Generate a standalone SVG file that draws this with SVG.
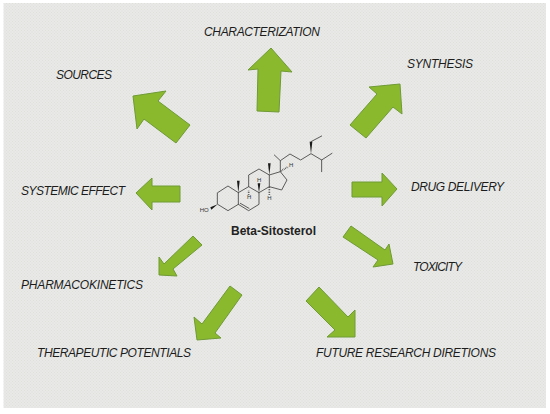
<svg xmlns="http://www.w3.org/2000/svg" width="550" height="414" viewBox="0 0 550 414">
<style>
.lbl{font-family:"Liberation Sans",Arial,sans-serif;font-style:italic;font-size:12px;fill:#1c1c1c}
.ttl{font-family:"Liberation Sans",Arial,sans-serif;font-weight:bold;font-size:12px;fill:#222}
.arr{fill:#8bb92d;stroke:#6f9a35;stroke-width:1;stroke-linejoin:miter}
.bond{fill:none;stroke:#444;stroke-width:2.6;stroke-linecap:round;stroke-linejoin:round}
.wedge{fill:#1a1a1a;stroke:none}
.hash{fill:none;stroke:#3a3a3a;stroke-width:5;stroke-dasharray:2 3}
.atom{font-family:"Liberation Sans",Arial,sans-serif;font-size:6px;fill:#333}
</style>
<defs>
<pattern id="tex" width="3" height="3" patternUnits="userSpaceOnUse">
<rect width="3" height="3" fill="#e9eae7"/>
<rect x="0" y="0" width="1" height="1" fill="#dfe0dc"/>
<rect x="1.5" y="1.5" width="1" height="1" fill="#e0e1dd"/>
</pattern>
</defs>
<rect width="550" height="414" fill="#ffffff"/>
<rect x="3.5" y="3" width="542.5" height="405" fill="url(#tex)"/>
<g id="connectors">
<polygon class="arr" points="271,48 292,72 281,71 279,112 257,111 258,69 248,70"/>
<polygon class="arr" points="133,96 166,91 158,101 190,125 176,143 144,119 137,129"/>
<polygon class="arr" points="136,193 152,178 152,186 180,186 180,202 152,202 152,210"/>
<polygon class="arr" points="400,84 369,87 377,94 350,125 366,138 393,107 402,114"/>
<polygon class="arr" points="352,182 382,182 382,173 397,189 382,206 382,197 352,197"/>
<polygon class="arr" points="351,226 385,250 389,244 393,264 373,267 378,260 343,237"/>
<polygon class="arr" points="319,287 348,317 355,310 355,337 327,337 335,330 306,301"/>
<polygon class="arr" points="230,286 242,295 215,333 221,338 197,340 194,317 202,324"/>
<polygon class="arr" points="193,236 202,245 173,269 177,276 159,275 159,257 164,264"/>
</g>
<g id="node-molecule">
<g transform="translate(190 120) scale(.3333)">
<path class="bond" d="M83,218 114,198 145,218 145,253 114,272 83,253Z"/>
<path class="bond" d="M145,218 176,200 207,218 207,253 176,272 145,253"/>
<path class="bond" d="M151,250 177,265"/>
<path class="bond" d="M176,200 176,165 207,147 238,165 238,200 207,218"/>
<path class="bond" d="M238,165 271,155 291,180 275,210 238,200"/>
<path class="bond" d="M271,155 271,122 300,102 332,120 363,101 395,120 426,100M395,120 395,155M363,65 395,48M271,122 253,105"/>
<polygon class="wedge" points="145,218 141,182 149,182"/>
<polygon class="wedge" points="238,165 234,130 242,130"/>
<polygon class="wedge" points="207,218 203,190 211,190"/>
<polygon class="wedge" points="363,101 359,65 367,65"/>
<polygon class="wedge" points="83,253 61,262 64,269"/>
<path class="hash" d="M176,212V226"/>
<path class="hash" d="M238,202V226"/>
<path class="hash" d="M273,153 295,140"/>
<text class="atom" transform="translate(171 238) scale(3)">H</text>
<text class="atom" transform="translate(201 186) scale(3)">H</text>
<text class="atom" transform="translate(232 239) scale(3)">H</text>
<text class="atom" transform="translate(297 142) scale(3)">H</text>
<text class="atom" transform="translate(29 277) scale(3)">HO</text>
</g>
</g>
<g id="node-title"><text class="ttl" x="231" y="235" textLength="85">Beta-Sitosterol</text></g>
<g id="node-characterization"><text class="lbl" x="204" y="36" textLength="116">CHARACTERIZATION</text></g>
<g id="node-sources"><text class="lbl" x="56" y="78.500" textLength="56">SOURCES</text></g>
<g id="node-systemic"><text class="lbl" x="21" y="195" textLength="104">SYSTEMIC EFFECT</text></g>
<g id="node-synthesis"><text class="lbl" x="407" y="68" textLength="66">SYNTHESIS</text></g>
<g id="node-drug"><text class="lbl" x="411" y="190.500" textLength="93">DRUG DELIVERY</text></g>
<g id="node-toxicity"><text class="lbl" x="413" y="271" textLength="49">TOXICITY</text></g>
<g id="node-future"><text class="lbl" x="316" y="357" textLength="180">FUTURE RESEARCH DIRETIONS</text></g>
<g id="node-therapeutic"><text class="lbl" x="37" y="357" textLength="154">THERAPEUTIC POTENTIALS</text></g>
<g id="node-pharma"><text class="lbl" x="21" y="289" textLength="122">PHARMACOKINETICS</text></g>
</svg>
